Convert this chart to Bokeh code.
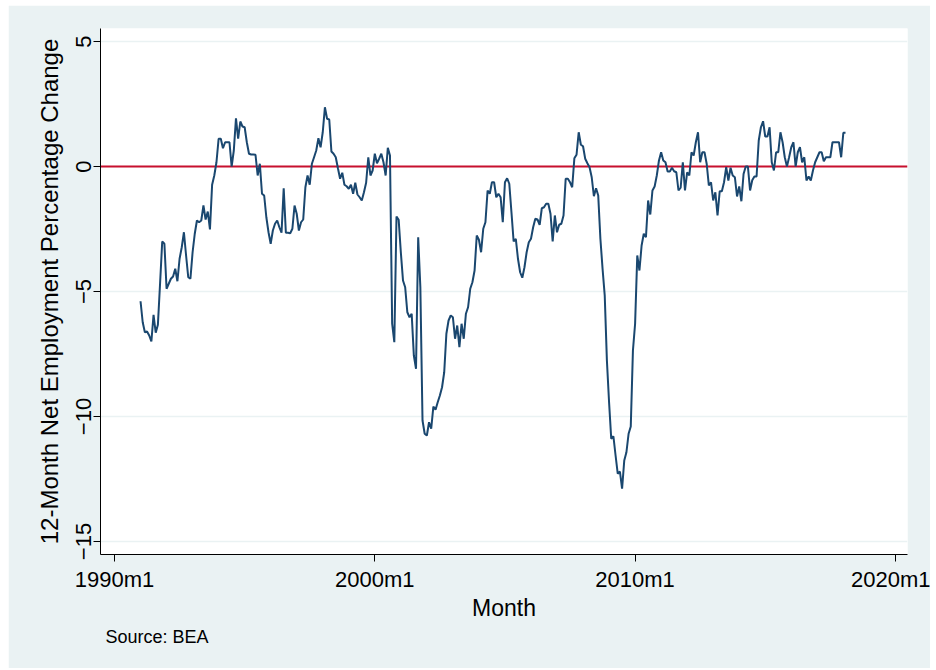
from bokeh.plotting import figure
from bokeh.models import FixedTicker, Span, Title, Range1d, ColumnDataSource, Spacer
from bokeh.layouts import column, row
from bokeh.embed import file_html
from bokeh.resources import INLINE

# 12-month net employment percentage change, monthly, from 1991m1
start_year = 1991
emp_1991 = [-5.39, -6.23, -6.63, -6.60, -6.76, -7.00, -5.93, -6.65, -6.33, -4.69, -3.00, -3.09]
emp_1992 = [-4.89, -4.69, -4.49, -4.40, -4.09, -4.59, -3.69, -3.23, -2.63, -3.56, -4.43, -4.49]
emp_1993 = [-3.43, -2.69, -2.16, -2.23, -2.16, -1.56, -2.12, -1.80, -2.52, -0.73, -0.36, 0.17]
emp_1994 = [1.11, 1.11, 0.73, 0.97, 0.97, 0.97, 0.00, 0.64, 1.93, 1.11, 1.80, 1.60]
emp_1995 = [1.57, 0.97, 0.51, 0.48, 0.48, 0.47, -0.36, 0.11, -1.09, -1.16, -2.03, -2.63]
emp_1996 = [-3.09, -2.56, -2.29, -2.16, -2.43, -2.65, -0.87, -2.65, -2.65, -2.67, -2.49, -1.56]
emp_1997 = [-1.89, -2.56, -2.23, -2.12, -0.83, -0.36, -0.73, 0.11, 0.37, 0.64, 1.13, 0.77]
emp_1998 = [1.37, 2.37, 1.91, 1.88, 0.60, 0.51, 0.37, -0.07, -0.49, -0.25, -0.73, -0.79]
emp_1999 = [-0.89, -0.73, -1.09, -0.65, -1.12, -1.23, -1.36, -1.03, -0.65, 0.37, -0.36, -0.16]
emp_2000 = [0.51, 0.13, 0.31, 0.51, 0.17, -0.36, 0.75, 0.44, -6.29, -7.03, -2.00, -2.13]
emp_2001 = [-3.43, -4.56, -4.83, -5.83, -6.03, -5.89, -7.56, -8.09, -2.83, -4.83, -10.16, -10.69]
emp_2002 = [-10.76, -10.23, -10.49, -9.60, -9.73, -9.43, -9.16, -8.83, -8.23, -6.69, -6.16, -5.96]
emp_2003 = [-6.03, -6.89, -6.36, -7.23, -6.29, -6.89, -5.89, -5.63, -4.89, -4.63, -4.16, -2.76]
emp_2004 = [-2.93, -3.43, -2.49, -2.23, -0.96, -1.09, -0.63, -0.63, -1.23, -1.09, -1.23, -2.23]
emp_2005 = [-0.63, -0.47, -0.69, -1.83, -3.00, -2.89, -3.69, -4.23, -4.45, -4.03, -3.43, -3.03]
emp_2006 = [-2.89, -2.43, -2.09, -2.12, -2.33, -1.67, -1.63, -1.49, -1.49, -1.89, -3.00, -1.96]
emp_2007 = [-2.63, -2.33, -2.29, -1.96, -0.49, -0.49, -0.63, -0.83, 0.33, 0.47, 1.37, 0.87]
emp_2008 = [0.81, 0.31, 0.13, -0.03, -0.43, -1.19, -0.87, -1.16, -2.89, -4.09, -5.16, -7.76]
emp_2009 = [-9.43, -10.89, -10.79, -11.56, -12.29, -12.20, -12.89, -11.76, -11.43, -10.69, -10.40, -7.36]
emp_2010 = [-6.29, -3.56, -4.16, -3.16, -2.69, -2.83, -1.36, -1.92, -0.96, -0.80, -0.36, 0.24]
emp_2011 = [0.57, 0.24, 0.17, -0.20, -0.20, -0.05, -0.19, -0.23, -0.96, -0.85, 0.17, -0.96]
emp_2012 = [-0.23, -0.36, 0.57, 0.44, 0.97, 1.37, 0.17, 0.57, 0.57, 0.11, -0.76, -0.63]
emp_2013 = [-1.36, -1.03, -1.96, -0.99, -0.99, -0.63, -0.03, -0.56, -0.05, -0.36, -0.43, -1.20]
emp_2014 = [-0.80, -1.39, -0.30, 0.00, 0.00, -0.96, -0.55, -0.40, -0.40, 1.04, 1.57, 1.81]
emp_2015 = [1.20, 1.20, 1.57, 0.17, -0.16, 0.57, 0.57, 1.37, 0.97, 0.37, 0.00, 0.37]
emp_2016 = [0.77, 0.97, 0.00, 0.57, 0.77, 0.17, 0.37, -0.56, -0.40, -0.56, -0.16, 0.17]
emp_2017 = [0.37, 0.57, 0.57, 0.21, 0.37, 0.37, 0.37, 0.97, 0.97, 0.97, 0.97, 0.37]
emp_2018 = [1.35, 1.35]

x_ticks = [1990, 2000, 2010, 2020]
x_tick_labels = ["1990m1", "2000m1", "2010m1", "2020m1"]
y_ticks = [-15, -10, -5, 0, 5]

values = (emp_1991 + emp_1992 + emp_1993 + emp_1994 + emp_1995 + emp_1996 + emp_1997
          + emp_1998 + emp_1999 + emp_2000 + emp_2001 + emp_2002 + emp_2003 + emp_2004
          + emp_2005 + emp_2006 + emp_2007 + emp_2008 + emp_2009 + emp_2010 + emp_2011
          + emp_2012 + emp_2013 + emp_2014 + emp_2015 + emp_2016 + emp_2017 + emp_2018)
months = [start_year + i / 12 for i in range(len(values))]
src = ColumnDataSource(data=dict(month=months, change=values))

BG = "#EAF2F3"
NAVY = "#1A476F"
FONT = "Liberation Sans"

p = figure(width=922, height=663, output_backend="svg", toolbar_location=None,
           x_range=Range1d(1989.462, 2020.465), y_range=Range1d(-15.52, 5.52),
           min_border_left=92, min_border_right=23, min_border_top=23, min_border_bottom=114)
p.background_fill_color = "white"
p.border_fill_color = BG
p.outline_line_color = None

p.xgrid.grid_line_color = None
p.ygrid.grid_line_color = BG
p.ygrid.grid_line_width = 1.5

zero = Span(location=0, dimension="width", line_color="#C8102E", line_width=2, level="underlay")
p.add_layout(zero)

p.line("month", "change", source=src, line_color=NAVY, line_width=2)

for ax in (p.xaxis, p.yaxis):
    ax.axis_line_color = "black"
    ax.axis_line_width = 1
    ax.major_tick_line_color = "black"
    ax.major_tick_out = 7
    ax.major_tick_in = 0
    ax.minor_tick_line_color = None
    ax.major_label_text_font = FONT
    ax.major_label_text_font_size = "22px"
    ax.major_label_text_color = "black"
    ax.axis_label_text_font = FONT
    ax.axis_label_text_font_style = "normal"
    ax.axis_label_text_color = "black"

p.xaxis.ticker = FixedTicker(ticks=x_ticks)
p.xaxis.major_label_overrides = dict(zip(x_ticks, x_tick_labels))
p.xaxis.axis_label = "Month"
p.xaxis.axis_label_text_font_size = "23px"
p.xaxis.major_label_standoff = 5
p.xaxis.axis_label_standoff = 0

p.yaxis.ticker = FixedTicker(ticks=y_ticks)
p.yaxis.major_label_orientation = "vertical"
p.yaxis.axis_label = "12-Month Net Employment Percentage Change"
p.yaxis.axis_label_text_font_size = "24px"
p.yaxis.major_label_standoff = 3
p.yaxis.axis_label_standoff = 10

note = Title(text="Source: BEA", align="left", offset=5, text_font=FONT,
             text_font_size="18px", text_font_style="normal", text_color="black", standoff=2)
p.add_layout(note, "below")

layout = row(Spacer(width=8, height=668), column(Spacer(width=922, height=5), p))
open("out.html", "w").write(file_html(layout, INLINE))
